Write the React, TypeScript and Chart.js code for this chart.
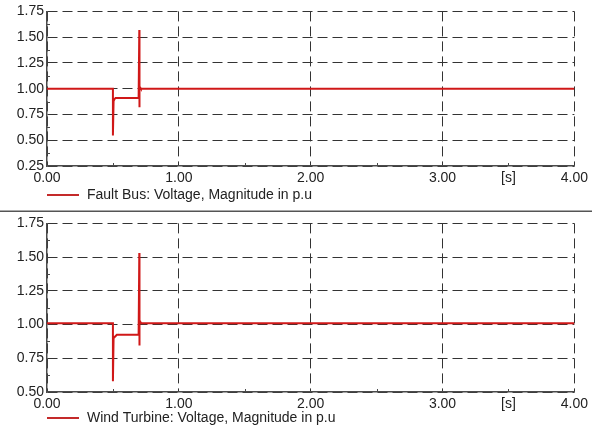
import React, { useEffect, useRef } from 'react';
import { Chart, registerables } from 'chart.js';

Chart.register(...registerables);

// ---- data ----
const faultTime = [0, 0.5, 0.5, 0.505, 0.512, 0.52, 0.695, 0.7, 0.7, 0.703, 0.707, 0.712, 4];
const faultVoltage = [1.0, 1.0, 0.545, 0.88, 0.9, 0.91, 0.91, 1.57, 0.82, 1.02, 1.01, 1.0, 1.0];

const windTime = [0, 0.5, 0.5, 0.505, 0.515, 0.53, 0.695, 0.7, 0.7, 0.703, 0.708, 0.715, 4];
const windVoltage = [1.01, 1.01, 0.58, 0.9, 0.91, 0.925, 0.925, 1.53, 0.845, 1.03, 1.02, 1.01, 1.01];

const xMajorTicks = [0, 1, 2, 3, 4];
const xMinorTicks = [0.5, 1.5, 2.5, 3.5];
const xUnitLabel = '[s]';
const xUnitPosition = 3.5;

const topYMin = 0.25;
const topYMax = 1.75;
const topYMinorTicks = [0.375, 0.625, 0.875, 1.125, 1.375, 1.625];

const bottomYMin = 0.5;
const bottomYMax = 1.75;
const bottomYMinorTicks = [0.625, 0.875, 1.125, 1.375, 1.625];

const faultLabel = 'Fault Bus: Voltage, Magnitude in p.u';
const windLabel = 'Wind Turbine: Voltage, Magnitude in p.u';

// ---- styles ----
const FONT = "'Liberation Sans', Arial, sans-serif";
const FONT_SIZE = 14;
const LINE_COLOR = '#d01818';
const GRID_COLOR = '#333333';
const AXIS_COLOR = '#4a4a4a';
const TEXT_COLOR = '#222222';

type PlotProps = {
  width: number;
  height: number;
  padTop: number;
  xAxisHeight: number;
  times: number[];
  values: number[];
  yMin: number;
  yMax: number;
  yMinor: number[];
  label: string;
  legendOffset: number;
  separator?: boolean;
};

function Plot(p: PlotProps) {
  const ref = useRef<HTMLCanvasElement | null>(null);

  useEffect(() => {
    if (!ref.current) return;
    const data = p.times.map((t, i) => ({ x: t, y: p.values[i] }));

    const decor = {
      id: 'decor',
      afterDraw(chart: any) {
        const ctx = chart.ctx as CanvasRenderingContext2D;
        const area = chart.chartArea;
        const xs = chart.scales.x;
        const ys = chart.scales.y;
        ctx.save();
        // minor ticks
        ctx.strokeStyle = AXIS_COLOR;
        ctx.lineWidth = 1;
        ctx.beginPath();
        p.yMinor.forEach((v) => {
          const py = Math.round(ys.getPixelForValue(v)) + 0.5;
          ctx.moveTo(area.left, py);
          ctx.lineTo(area.left + 3, py);
        });
        xMinorTicks.forEach((v) => {
          const px = Math.round(xs.getPixelForValue(v)) + 0.5;
          ctx.moveTo(px, area.bottom);
          ctx.lineTo(px, area.bottom - 3);
        });
        ctx.stroke();
        // legend
        const ly = area.bottom + p.legendOffset;
        ctx.strokeStyle = '#c42a2a';
        ctx.lineWidth = 2;
        ctx.beginPath();
        ctx.moveTo(area.left, ly);
        ctx.lineTo(area.left + 32, ly);
        ctx.stroke();
        ctx.fillStyle = TEXT_COLOR;
        ctx.font = `${FONT_SIZE}px ${FONT}`;
        ctx.textBaseline = 'middle';
        ctx.textAlign = 'left';
        ctx.fillText(p.label, area.left + 40, ly);
        // separator
        if (p.separator) {
          ctx.strokeStyle = '#555555';
          ctx.lineWidth = 1.5;
          ctx.beginPath();
          ctx.moveTo(0, p.height - 0.75);
          ctx.lineTo(p.width, p.height - 0.75);
          ctx.stroke();
        }
        ctx.restore();
      },
    };

    const chart = new Chart(ref.current, {
      type: 'line',
      data: {
        datasets: [
          {
            label: p.label,
            data,
            borderColor: LINE_COLOR,
            borderWidth: 2,
            pointRadius: 0,
            tension: 0,
            fill: false,
          },
        ],
      },
      options: {
        animation: false,
        responsive: false,
        maintainAspectRatio: false,
        layout: { padding: { left: 0, right: 17, top: p.padTop, bottom: 0 } },
        plugins: { legend: { display: false }, tooltip: { enabled: false } },
        scales: {
          x: {
            type: 'linear',
            min: 0,
            max: 4,
            afterFit: (s: any) => {
              s.height = p.xAxisHeight;
            },
            afterBuildTicks: (s: any) => {
              const vals = [...xMajorTicks, ...xMinorTicks].sort((a, b) => a - b);
              s.ticks = vals.map((v) => ({ value: v }));
            },
            ticks: {
              autoSkip: false,
              maxRotation: 0,
              padding: 4,
              color: TEXT_COLOR,
              font: { family: FONT, size: FONT_SIZE },
              callback: (v: any) => {
                const n = Number(v);
                if (xMajorTicks.includes(n)) return n.toFixed(2);
                if (n === xUnitPosition) return xUnitLabel;
                return '';
              },
            },
            grid: {
              drawTicks: false,
              color: (c: any) =>
                c.tick && xMajorTicks.includes(c.tick.value) ? GRID_COLOR : 'rgba(0,0,0,0)',
              lineWidth: 1,
            },
            border: { display: true, color: AXIS_COLOR, width: 1.5, dash: [10, 5] },
          },
          y: {
            type: 'linear',
            min: p.yMin,
            max: p.yMax,
            afterFit: (s: any) => {
              s.width = 47;
            },
            ticks: {
              stepSize: 0.25,
              padding: 3,
              color: TEXT_COLOR,
              font: { family: FONT, size: FONT_SIZE },
              callback: (v: any) => Number(v).toFixed(2),
            },
            grid: { drawTicks: false, color: GRID_COLOR, lineWidth: 1 },
            border: { display: true, color: AXIS_COLOR, width: 1.5, dash: [10, 5] },
          },
        },
      },
      plugins: [decor],
    });
    return () => chart.destroy();
  }, []);

  return (
    <canvas
      ref={ref}
      width={p.width}
      height={p.height}
      style={{ display: 'block', width: p.width, height: p.height }}
    />
  );
}

export default function App() {
  return (
    <div
      style={{
        position: 'absolute',
        left: 0,
        top: 0,
        width: 592,
        height: 428,
        background: '#ffffff',
      }}
    >
      <Plot
        width={592}
        height={212}
        padTop={11}
        xAxisHeight={46}
        times={faultTime}
        values={faultVoltage}
        yMin={topYMin}
        yMax={topYMax}
        yMinor={topYMinorTicks}
        label={faultLabel}
        legendOffset={29}
        separator
      />
      <Plot
        width={592}
        height={216}
        padTop={10}
        xAxisHeight={36}
        times={windTime}
        values={windVoltage}
        yMin={bottomYMin}
        yMax={bottomYMax}
        yMinor={bottomYMinorTicks}
        label={windLabel}
        legendOffset={26}
      />
    </div>
  );
}
